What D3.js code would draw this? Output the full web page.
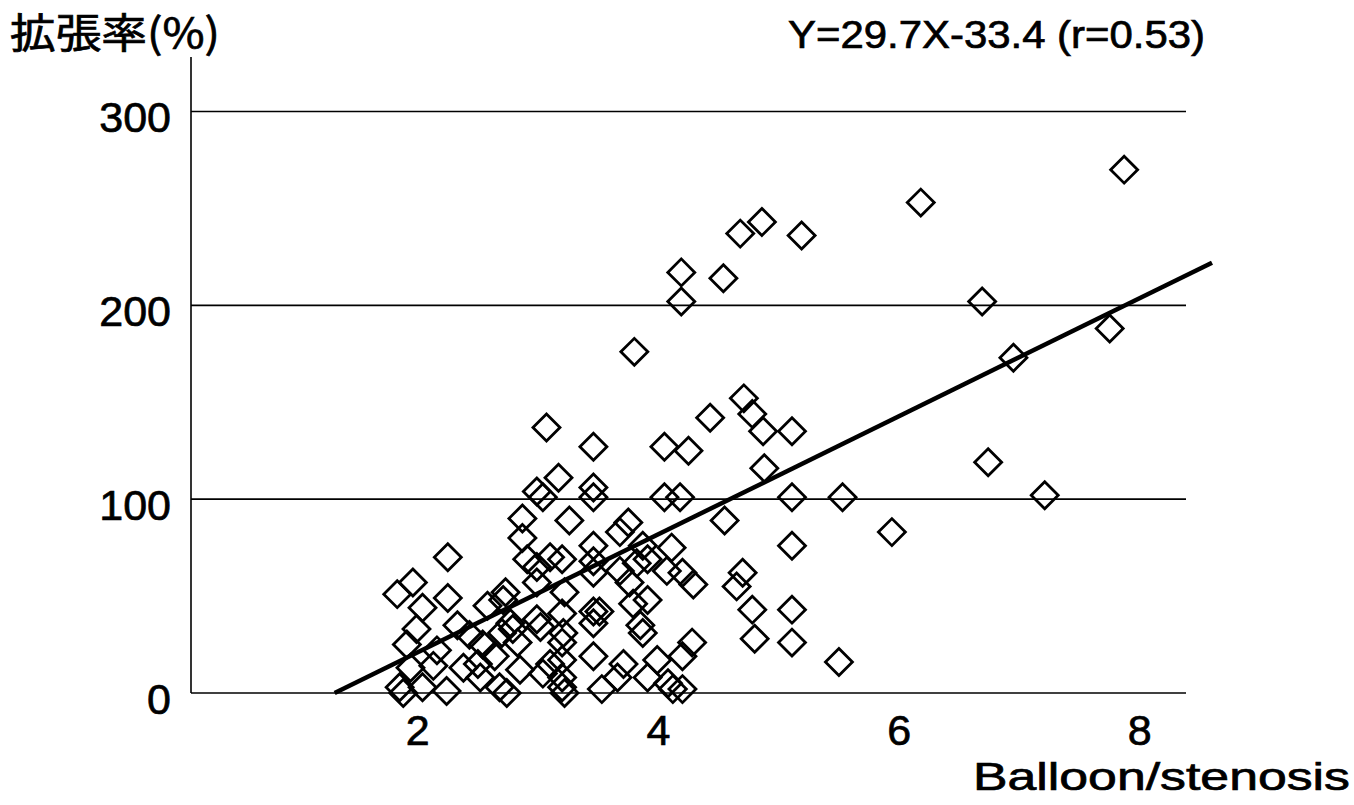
<!DOCTYPE html>
<html>
<head>
<meta charset="utf-8">
<script src="https://cdn.jsdelivr.net/npm/d3@7"></script>
<style>
  html, body { margin: 0; padding: 0; background: #fff; }
  svg { display: block; }
  text { font-family: "Liberation Sans", Arial, sans-serif; fill: #000; stroke: #000; stroke-width: 0.7px; }
</style>
</head>
<body>
<svg id="chart" width="1354" height="805"></svg>
<script>
// ---- data ----
const xValues = [
  7.87, 6.18, 4.86, 4.68, 5.19, 4.19, 4.54, 4.19, 6.69, 7.75,
  3.80, 6.95, 4.71, 4.78, 4.43, 4.87, 5.11, 3.07, 3.46, 4.05,
  4.25, 6.74, 4.88, 5.94, 4.55, 4.05, 4.18, 5.11, 5.53, 7.21,
  3.17, 2.99, 3.04, 3.46, 3.46, 2.87, 3.26, 3.75, 2.87, 3.68,
  3.46, 3.87, 4.11, 5.11, 2.25, 2.91, 2.99, 3.10, 3.20, 3.46,
  3.46, 3.68, 3.82, 3.91, 4.07, 4.20, 4.29, 4.70, 4.65, 2.99,
  3.22, 3.76, 3.91, 3.79, 4.78, 4.80, 5.11, 5.11, 5.50, 4.28,
  4.20, 1.96, 1.83, 2.25, 2.04, 2.73, 2.58, 2.71, 2.33, 2.43,
  1.99, 1.91, 2.77, 2.70, 2.79, 2.99, 3.02, 3.20, 3.21, 3.46,
  3.51, 3.46, 3.85, 3.87, 2.54, 2.64, 2.83, 3.20, 3.20, 3.46,
  2.16, 2.13, 1.94, 2.38, 2.50, 2.52, 2.85, 3.04, 3.20, 3.10,
  3.71, 3.66, 3.91, 3.99, 1.85, 2.04, 2.24, 1.88, 2.68, 2.74,
  3.20, 3.22, 3.53, 4.12, 4.20, 4.08
];
const yValues = [
  270, 253, 243, 237, 236, 217, 214, 202, 202, 188,
  176, 173, 152, 144, 142, 135, 135, 137, 127, 127,
  125, 119, 116, 83, 89, 101, 101, 101, 101, 102,
  111, 104, 101, 106, 101, 90, 89, 88, 80, 83,
  76, 76, 75, 76, 70, 69, 65, 70, 69, 68,
  62, 63, 67, 69, 63, 62, 56, 62, 55, 57,
  52, 57, 48, 46, 43, 28, 43, 26, 16, 26,
  19, 57, 51, 49, 44, 52, 45, 48, 35, 30,
  33, 25, 36, 31, 33, 38, 34, 41, 31, 42,
  42, 36, 35, 31, 25, 19, 26, 26, 17, 19,
  22, 14, 13, 13, 15, 8, 12, 10, 8, 15,
  15, 8, 8, 17, 3, 3, 1, 0, 3, 0,
  3, 0, 2, 2, 2, 5
];
const xTicks = [2, 4, 6, 8];
const yTicks = [0, 100, 200, 300];
const fitX = [1.31, 8.60];
const fitY = [0, 222];
const yTitle = "拡張率(%)";
const xTitle = "Balloon/stenosis";
const equation = "Y=29.7X-33.4 (r=0.53)";

// ---- layout ----
const svg = d3.select("#chart");
const x = d3.scaleLinear().domain([2, 8]).range([417.7, 1139.8]);
const y = d3.scaleLinear().domain([0, 300]).range([693, 111.5]);
const plotLeft = 191, plotRight = 1186, axisTop = 57;

// gridlines (incl. baseline at 0)
svg.append("g").selectAll("line").data(yTicks).join("line")
  .attr("x1", plotLeft).attr("x2", plotRight)
  .attr("y1", d => y(d)).attr("y2", d => y(d))
  .attr("stroke", "#000").attr("stroke-width", 1.6);

// y axis line
svg.append("line")
  .attr("x1", plotLeft).attr("x2", plotLeft)
  .attr("y1", axisTop).attr("y2", y(0))
  .attr("stroke", "#000").attr("stroke-width", 1.6);

// y tick labels
svg.append("g").selectAll("text").data(yTicks).join("text")
  .attr("x", 171).attr("y", d => y(d) + 20.5)
  .attr("text-anchor", "end")
  .attr("font-size", 43)
  .text(d => d);

// x tick labels
svg.append("g").selectAll("text").data(xTicks).join("text")
  .attr("x", d => x(d)).attr("y", 745)
  .attr("text-anchor", "middle")
  .attr("font-size", 43)
  .text(d => d);

// titles
svg.append("text")
  .attr("x", 10).attr("y", 48)
  .attr("font-size", 41)
  .style("font-family", "'Noto Sans CJK JP', 'Noto Sans CJK SC', sans-serif")
  .attr("textLength", 210).attr("lengthAdjust", "spacingAndGlyphs")
  .text(yTitle);

svg.append("text")
  .attr("x", 788).attr("y", 48)
  .attr("font-size", 38)
  .attr("textLength", 417).attr("lengthAdjust", "spacingAndGlyphs")
  .text(equation);

svg.append("text")
  .attr("x", 973).attr("y", 790)
  .attr("font-size", 38)
  .attr("textLength", 377).attr("lengthAdjust", "spacingAndGlyphs")
  .text(xTitle);

// points: open diamonds
const pts = xValues.map((v, i) => ({ x: v, y: yValues[i] }));
const diamond = d3.symbol().type(d3.symbolSquare).size(364);
svg.append("g").selectAll("path").data(pts).join("path")
  .attr("d", diamond)
  .attr("transform", d => `translate(${x(d.x)},${y(d.y)}) rotate(45)`)
  .attr("fill", "none")
  .attr("stroke", "#000")
  .attr("stroke-width", 2.8);

// regression line
const fit = fitX.map((v, i) => [v, fitY[i]]);
svg.append("path")
  .attr("d", d3.line().x(d => x(d[0])).y(d => y(d[1]))(fit))
  .attr("fill", "none")
  .attr("stroke", "#000")
  .attr("stroke-width", 4.5)
  .attr("stroke-linecap", "butt");
</script>
</body>
</html>
